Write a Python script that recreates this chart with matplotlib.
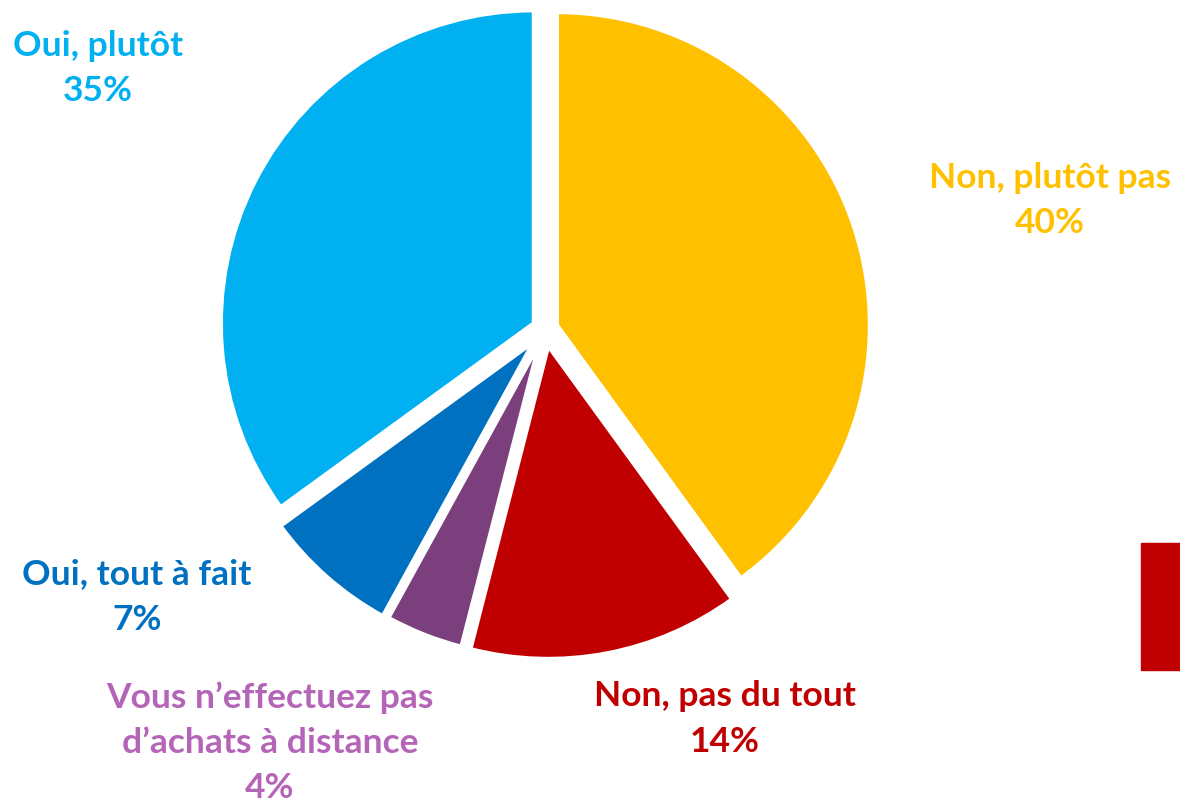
import numpy as np
import matplotlib.pyplot as plt
from matplotlib.patches import Rectangle

labels = ['Non, plutôt pas', 'Non, pas du tout', 'Vous n\u2019effectuez pas\nd\u2019achats à distance',
          'Oui, tout à fait', 'Oui, plutôt']
values = [40, 14, 4, 7, 35]
colors = ['#FFC000', '#C00000', '#7B3F7E', '#0070C0', '#00B0F0']
text_colors = ['#FFC000', '#C00000', '#B565B8', '#0070C0', '#00B0F0']
explode = [0.04, 0.055, 0.05, 0.055, 0.04]

# label centres in image pixels (x, y from top)
label_pos = [(1050, 200), (725, 719), (270, 743), (137, 597), (98, 68)]

W, H = 1180, 802
cx, cy, R = 545, 329, 313

fig = plt.figure(figsize=(W / 100, H / 100), dpi=100)
ax = fig.add_axes([0, 0, 1, 1])

ax.pie(values, colors=colors, explode=explode, startangle=90, counterclock=False,
       radius=1, wedgeprops=dict(edgecolor='white', linewidth=3))

ax.set_xlim(-cx / R, (W - cx) / R)
ax.set_ylim((cy - H) / R, cy / R)
ax.set_aspect('equal', adjustable='datalim')
ax.axis('off')

for lab, v, col, (px, py) in zip(labels, values, text_colors, label_pos):
    ax.text((px - cx) / R, (cy - py) / R, f'{lab}\n{v}%', color=col, ha='center', va='center',
            fontsize=25.5, fontweight='bold', family=['Lato', 'DejaVu Sans'], linespacing=1.5)

fig.patches.append(Rectangle((1141 / W, (H - 670) / H), 39 / W, 127 / H,
                             transform=fig.transFigure, color='#C00000'))

fig.savefig('out.png', dpi=100)
